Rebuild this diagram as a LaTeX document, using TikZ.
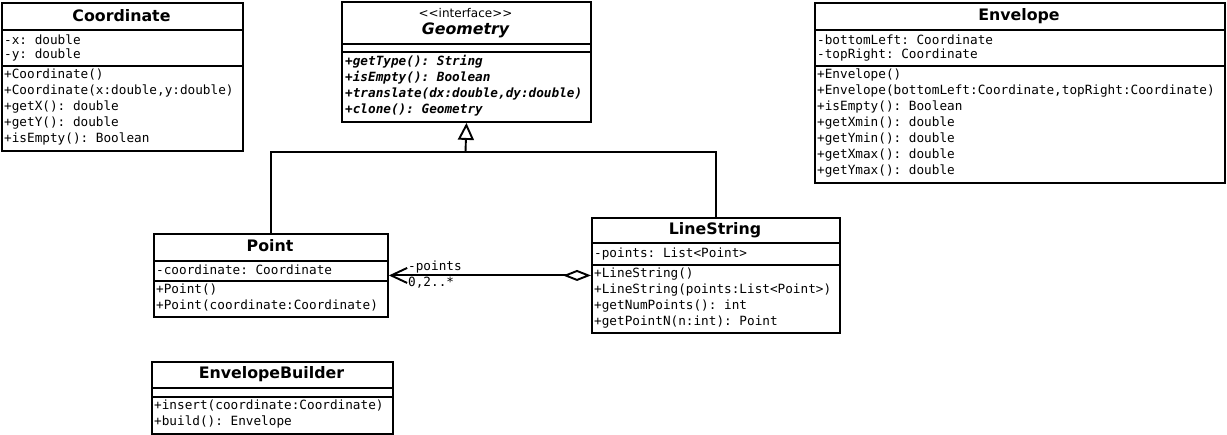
\documentclass[tikz,border=0pt]{standalone}
\usepackage{fontspec}
\setmainfont{DejaVu Sans}
\setmonofont{DejaVu Sans Mono}
\usetikzlibrary{arrows.meta}
\begin{document}
\begin{tikzpicture}[x=1pt,y=-1pt,
  cls/.style={draw, line width=1.9pt, anchor=north west, inner sep=0pt, fill=white},
  sep/.style={line width=1.7pt},
  ttl/.style={inner sep=0pt, font=\bfseries\fontsize{15.8}{18}\selectfont},
  mem/.style={anchor=west, inner sep=0pt, font=\ttfamily\fontsize{12.7}{14}\selectfont},
  absm/.style={anchor=west, inner sep=0pt, font=\ttfamily\bfseries\itshape\fontsize{12.7}{14}\selectfont},
  conn/.style={line width=1.9pt},
  lbl/.style={anchor=west, inner sep=0pt, font=\ttfamily\fontsize{12.7}{14}\selectfont}]
\useasboundingbox[fill=white] (0,0) rectangle (1227,435);

% Coordinate
\node[cls, minimum width=241pt, minimum height=148pt] (coord) at (1,2) {};
\draw[sep] (coord.west |- 0,30) -- (coord.east |- 0,30);
\draw[sep] (coord.west |- 0,66) -- (coord.east |- 0,66);
\node[ttl] (coordT) at (121.5,16) {Coordinate};
\node[mem] (c1) at (4,40) {-x: double};
\node[mem] (c2) at (4,55) {-y: double};
\node[mem] (c3) at (4,75) {+Coordinate()};
\node[mem] (c4) at (4,91) {+Coordinate(x:double,y:double)};
\node[mem] (c5) at (4,107) {+getX(): double};
\node[mem] (c6) at (4,123) {+getY(): double};
\node[mem] (c7) at (4,139) {+isEmpty(): Boolean};

% Geometry
\node[cls, minimum width=249pt, minimum height=120pt] (geom) at (341,1) {};
\draw[sep] (geom.west |- 0,44) -- (geom.east |- 0,44);
\draw[sep] (geom.west |- 0,52) -- (geom.east |- 0,52);
\node[inner sep=0pt, font=\fontsize{12}{13}\selectfont] (geomS) at (465.5,13) {{<}{<}interface{>}{>}};
\node[ttl, font=\bfseries\itshape\fontsize{15.8}{18}\selectfont] (geomT) at (465.5,30) {Geometry};
\node[absm] (g1) at (345,62) {+getType(): String};
\node[absm] (g2) at (345,78) {+isEmpty(): Boolean};
\node[absm] (g3) at (345,94) {+translate(dx:double,dy:double)};
\node[absm] (g4) at (345,110) {+clone(): Geometry};

% Envelope
\node[cls, minimum width=410pt, minimum height=180pt] (env) at (814,2) {};
\draw[sep] (env.west |- 0,30) -- (env.east |- 0,30);
\draw[sep] (env.west |- 0,66) -- (env.east |- 0,66);
\node[ttl] (envT) at (1019,16) {Envelope};
\node[mem] (e1) at (817,40) {-bottomLeft: Coordinate};
\node[mem] (e2) at (817,55) {-topRight: Coordinate};
\node[mem] (e3) at (817,75) {+Envelope()};
\node[mem] (e4) at (817,91) {+Envelope(bottomLeft:Coordinate,topRight:Coordinate)};
\node[mem] (e5) at (817,107) {+isEmpty(): Boolean};
\node[mem] (e6) at (817,123) {+getXmin(): double};
\node[mem] (e7) at (817,139) {+getYmin(): double};
\node[mem] (e8) at (817,155) {+getXmax(): double};
\node[mem] (e9) at (817,171) {+getYmax(): double};

% Point
\node[cls, minimum width=234pt, minimum height=83pt] (point) at (153,233) {};
\draw[sep] (point.west |- 0,261) -- (point.east |- 0,261);
\draw[sep] (point.west |- 0,281) -- (point.east |- 0,281);
\node[ttl] (pointT) at (270,246) {Point};
\node[mem] (p1) at (156,270) {-coordinate: Coordinate};
\node[mem] (p2) at (156,290) {+Point()};
\node[mem] (p3) at (156,306) {+Point(coordinate:Coordinate)};

% LineString
\node[cls, minimum width=248pt, minimum height=115pt] (ls) at (591,217) {};
\draw[sep] (ls.west |- 0,243) -- (ls.east |- 0,243);
\draw[sep] (ls.west |- 0,265) -- (ls.east |- 0,265);
\node[ttl] (lsT) at (715,230) {LineString};
\node[mem] (l1) at (594,254) {-points: List<Point>};
\node[mem] (l2) at (594,274) {+LineString()};
\node[mem] (l3) at (594,290) {+LineString(points:List<Point>)};
\node[mem] (l4) at (594,306) {+getNumPoints(): int};
\node[mem] (l5) at (594,322) {+getPointN(n:int): Point};

% EnvelopeBuilder
\node[cls, minimum width=241pt, minimum height=72pt] (eb) at (151,361) {};
\draw[sep] (eb.west |- 0,388) -- (eb.east |- 0,388);
\draw[sep] (eb.west |- 0,397) -- (eb.east |- 0,397);
\node[ttl] (ebT) at (271.5,374) {EnvelopeBuilder};
\node[mem] (b1) at (154,406) {+insert(coordinate:Coordinate)};
\node[mem] (b2) at (154,422) {+build(): Envelope};

% Generalization
\coordinate (j) at (465.5,152);
\draw[conn] (point.north) |- (j);
\draw[conn] (ls.north) |- (j);
\draw[conn, -{Triangle[open, length=17pt, width=16pt]}] (j) -- (geom.south);

% Aggregation
\draw[conn, {Diamond[open, length=28pt, width=11pt]}-{Straight Barb[length=16pt, width=15pt]}] (ls.west) -- (point.east);
\node[lbl] (agg1) at (408,267) {-points};
\node[lbl] (agg2) at (408,283) {0,2..*};
\end{tikzpicture}
\end{document}
